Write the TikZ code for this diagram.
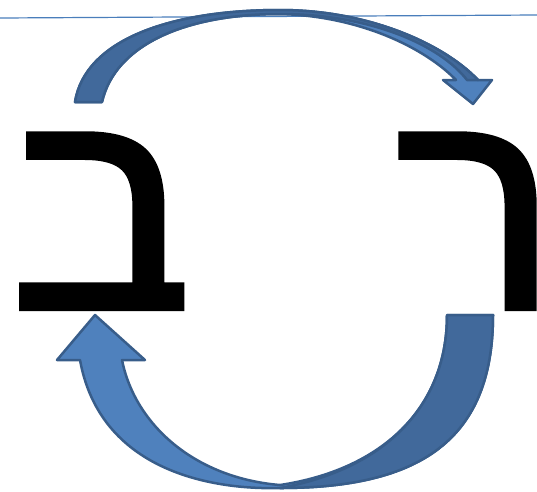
\documentclass[tikz,border=0pt]{standalone}
\usepackage{fontspec}
\newfontfamily\hebfont[Script=Hebrew,FakeBold=1.5,FakeStretch=1.05]{Liberation Sans}
\TeXXeTstate=1
\definecolor{arrowlight}{HTML}{4F81BD}
\definecolor{arrowdark}{HTML}{41699B}
\definecolor{arrowline}{HTML}{385D8A}
\definecolor{rulecol}{HTML}{4A7EBB}

\begin{document}
\begin{tikzpicture}[x=1pt,y=-1pt,
    letter/.style={inner sep=0pt,anchor=base,font=\hebfont\fontsize{293}{293}\selectfont},
    lightband/.style={fill=arrowlight,draw=arrowline,line width=2.5pt,line join=round},
    darkband/.style={fill=arrowdark,draw=arrowline,line width=2.5pt,line join=round}]
\useasboundingbox (0,0) rectangle (537,491);
\draw[rulecol,line width=1.2pt] (0,18) -- (537,15);
% letters
\node[letter] (bet) at (101,309) {\beginR ב\endR};
\node[letter] (resh) at (477,309) {\beginR ר\endR};
% top arrow, from bet to resh
\path[lightband] (75,102) .. controls (85,40) and (170,10) .. (280,10)
  .. controls (370,10) and (445,45) .. (478,80) -- (492,80) -- (473,104)
  -- (443,80) -- (456,80) .. controls (425,48) and (360,16) .. (280,14)
  .. controls (185,14) and (115,45) .. (102,102) -- cycle;
\path[darkband] (75,102) .. controls (85,40) and (170,10) .. (280,10)
  .. controls (370,10) and (445,45) .. (478,80) -- (467,80)
  .. controls (440,45) and (370,14) .. (280,14)
  .. controls (185,14) and (115,45) .. (102,102) -- cycle;
% bottom arrow, from resh to bet
\path[lightband] (493,315) .. controls (493,440) and (420,488) .. (280,488)
  .. controls (210,490) and (100,470) .. (80,360) -- (57,360) -- (95,315)
  -- (145,360) -- (122,360) .. controls (135,425) and (195,478) .. (280,485)
  .. controls (380,470) and (447,410) .. (447,315) -- cycle;
\path[darkband] (493,315) .. controls (493,440) and (420,488) .. (280,488)
  .. controls (380,470) and (447,410) .. (447,315) -- cycle;
\end{tikzpicture}
\end{document}
